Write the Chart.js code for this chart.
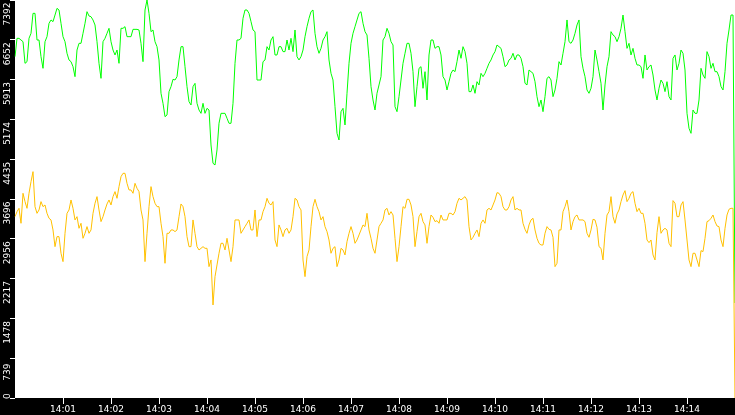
<!DOCTYPE html>
<html>
<head>
<meta charset="utf-8">
<script src="https://cdn.jsdelivr.net/npm/chart.js@4.4.1/dist/chart.umd.min.js"></script>
<style>
html,body{margin:0;padding:0;background:#000;}
#wrap{width:735px;height:415px;}
</style>
</head>
<body>
<div id="wrap"><canvas id="c" width="735" height="415"></canvas></div>
<script>
// Series read every 2.5 seconds from 14:00:00 to 14:15:00
const startTime = '14:00:00';
const stepSeconds = 2.5;

const greenSeries = [
6340,6680,6680,6649,6618,6216,6247,6680,6773,7144,7144,6649,6649,6340,6123,6618,6711,6959,7021,6990,
7113,7237,7206,6959,6711,6618,6402,6278,6247,6154,5968,6463,6587,6587,6773,6959,7175,7095,7082,7021,
6928,6618,6216,5937,6618,6680,6773,6866,6618,6463,6371,6463,6216,6866,6866,6897,6711,6711,6711,6847,
6847,6847,6835,6587,6247,7206,7392,7144,6804,6835,6618,6525,6278,5659,5473,5225,5256,5690,5783,5919,
5906,5968,6278,6525,6525,6154,5783,5504,5442,5783,
5844,5473,5349,5287,5473,5287,5380,5349,4699,4359,4328,4607,5102,5287,5287,5287,5195,5102,5102,5473,
6216,6649,6649,6680,7052,7206,7206,7144,6990,6835,6804,5906,5906,5906,6247,6278,6525,6463,6649,6711,
6371,6371,6525,6525,6433,6433,6649,6463,6680,6433,6835,6340,6278,6340,6463,6711,6897,7052,7175,7206,
6773,6525,6402,6494,6649,6711,6804,6278,6030,5906,5411,4916,4792,5318,5380,5071,5659,6216,6587,6773,
6897,7021,7144,7175,6959,6804,6742,6309,5783,5535,
5349,5659,5814,5968,6649,6711,6866,6773,6618,6556,5411,5318,5597,5906,6216,6402,6587,6587,6402,6061,
5411,5783,6123,6154,5752,6061,5535,6371,6649,6649,6494,6525,6525,6371,5968,5906,5721,5875,6030,6092,
6061,6247,6463,6309,6525,6433,6216,5690,5690,5814,5659,5875,5814,6030,5968,6030,6123,6216,6278,6371,
6433,6556,6525,6494,6340,6154,6185,6278,6309,6402,6278,6371,6371,6309,6154,5845,5814,6092,6061,6030,
5875,5597,5411,5535,5318,5597,5937,5968,5906,5597,
5721,5937,6247,6185,6402,6618,7021,6618,6587,6649,6773,6928,7021,6340,6123,5968,5721,5659,5752,5968,
6463,6278,6061,5845,5349,5814,6154,6340,6804,6742,6711,6618,6711,6866,7113,6804,6494,6587,6371,6494,
6309,6185,6185,6154,5937,6371,6092,6154,6185,5999,5721,5535,5752,5906,5844,5690,5875,5597,5535,6309,
6371,6092,6216,6463,6402,6092,5287,5009,4916,5349,5287,5287,5535,6123,5999,5937,6433,6340,6123,6216,
6061,6061,5968,5783,5721,6061,6587,6835,7113,7113,1764
];

const yellowSeries = [
3368,3461,3523,3245,3802,3647,3523,3802,4018,4204,3554,3430,3492,3647,3554,3585,3430,3338,3307,3121,
2811,2997,2997,2688,2533,3059,3430,3492,3678,3523,3307,3368,3152,3245,2966,3059,3183,3059,3121,3430,
3616,3740,3492,3276,3368,3492,3604,3678,3585,3740,3833,3709,3926,4111,4173,4173,3987,3864,3864,3802,
3987,3895,3833,3492,3307,2533,3059,3554,3926,3740,3616,3554,3554,3245,2997,2502,3059,3059,3121,3121,
3090,3121,3368,3604,3554,3368,2997,2811,2811,3307,
3059,2811,2749,2780,2811,2780,2780,2440,2564,1728,2254,2471,2688,2873,2873,2749,2966,2749,2533,2811,
3307,3307,3307,3059,3121,3183,3245,3307,3121,3121,3492,2997,3307,3307,3461,3554,3709,3616,3585,3647,
2935,2811,3214,3121,2997,3121,3152,3059,3121,3368,3709,3678,3554,3492,2564,2254,2626,2749,3183,3554,
3690,3554,3461,3307,3368,3183,3090,2935,2688,2780,2811,2440,2564,2780,2749,2657,2904,3059,3183,3059,
2873,2935,3028,3121,3214,3183,3430,3121,2966,2780,
2688,2935,3183,3245,3307,3492,3523,3399,3461,3399,2966,2533,2811,3183,3554,3523,3690,3690,3585,3368,
2811,3090,3368,3430,3276,3214,2873,3183,3399,3356,3276,3294,3245,3399,3307,3307,3307,3430,3430,3399,
3461,3616,3709,3678,3709,3740,3678,3183,2935,2985,3059,3121,2997,3245,3307,3245,3492,3523,3492,3585,
3678,3814,3802,3740,3554,3492,3492,3554,3678,3740,3492,3523,3492,3492,3245,3133,3059,3214,3307,3338,
3121,2966,2873,2842,2842,3059,3183,3133,3121,2985,
2440,2502,3121,3121,3461,3554,3678,3461,3121,3276,3368,3399,3307,3307,3307,3276,3059,2985,3121,3319,
3307,3171,2811,2780,2564,3059,3399,3461,3740,3368,3245,3418,3492,3647,3771,3851,3647,3709,3802,3833,
3616,3461,3523,3430,3430,3245,2935,2886,2935,2657,2564,3071,3368,3059,3121,3152,3121,2873,2811,3666,
3616,3368,3368,3585,3647,3307,2935,2564,2440,2688,2688,2564,2440,2737,2719,2966,3276,3294,3338,3399,
3276,3195,3183,2935,2811,3152,3399,3505,3523,3523,0
];

const yMax = 7392;
const yTickValues = [0, 739.2, 1478.4, 2217.6, 2956.8, 3696, 4435.2, 5174.4, 5913.6, 6652.8, 7392];
const yTickLabels = ['0','739','1478','2217','2956','3696','4435','5174','5913','6652','7392'];

function toSec(t){const p=t.split(':').map(Number);return p[0]*3600+p[1]*60+p[2];}
function pad(n){return String(Math.floor(n)).padStart(2,'0');}
const startSec = toSec(startTime);
const timeLabels = greenSeries.map((_, i) => {
  const s = startSec + i*stepSeconds;
  return pad(s/3600) + ':' + pad((s/60)%60) + ':' + pad(s%60);
});
const lastIndex = timeLabels.length - 1;
function isMinuteTick(i){
  const s = startSec + i*stepSeconds;
  return s % 60 === 0 && i !== 0 && i !== lastIndex;
}

const FONT = 'DejaVu Sans';

const bgPlugin = {
  id: 'bg',
  beforeDraw(chart){
    const {ctx, chartArea:a, width, height} = chart;
    ctx.save();
    ctx.fillStyle = '#000';
    ctx.fillRect(0,0,width,height);
    ctx.fillStyle = '#fff';
    ctx.fillRect(a.left, a.top, a.right-a.left, a.bottom-a.top);
    ctx.restore();
  }
};

const yLabelPlugin = {
  id: 'ylabels',
  afterDraw(chart){
    const {ctx, chartArea:a} = chart;
    const ys = chart.scales.y;
    ctx.save();
    ctx.fillStyle = '#fff';
    ctx.font = '9px "' + FONT + '"';
    ctx.textAlign = 'center';
    ctx.textBaseline = 'alphabetic';
    yTickValues.forEach((v, i) => {
      const txt = yTickLabels[i];
      const w = ctx.measureText(txt).width;
      let cy = ys.getPixelForValue(v) + 14;
      const maxCy = a.bottom + 1 - w/2;
      if (cy > maxCy) cy = maxCy;
      ctx.save();
      ctx.translate(10, cy);
      ctx.rotate(-Math.PI/2);
      ctx.fillText(txt, 0, 0);
      ctx.restore();
    });
    ctx.restore();
  }
};

new Chart(document.getElementById('c'), {
  type: 'line',
  data: {
    labels: timeLabels,
    datasets: [
      {data: yellowSeries, borderColor: '#ffc000', borderWidth: 1, pointRadius: 0, tension: 0, fill: false},
      {data: greenSeries, borderColor: '#00ff00', borderWidth: 1, pointRadius: 0, tension: 0, fill: false}
    ]
  },
  options: {
    responsive: false,
    devicePixelRatio: 1,
    animation: false,
    layout: {padding: 0},
    plugins: {legend: {display: false}, tooltip: {enabled: false}},
    scales: {
      x: {
        type: 'category',
        offset: false,
        border: {display: false},
        grid: {
          display: true,
          drawOnChartArea: false,
          drawTicks: true,
          tickLength: 6,
          offset: false,
          color: (c) => isMinuteTick(c.index) ? '#ffffff' : 'rgba(0,0,0,0)'
        },
        ticks: {
          autoSkip: false,
          maxRotation: 0,
          minRotation: 0,
          padding: 0,
          color: '#fff',
          font: {family: FONT, size: 9},
          callback: (v, i) => isMinuteTick(i) ? timeLabels[i].slice(0,5) : ''
        },
        afterFit: (s) => { s.height = 17; }
      },
      y: {
        min: 0,
        max: yMax,
        border: {display: false},
        grid: {display: true, drawOnChartArea: false, drawTicks: true, tickLength: 5, color: '#ffffff'},
        ticks: {display: false},
        afterBuildTicks: (s) => { s.ticks = yTickValues.map(v => ({value: v})); },
        afterFit: (s) => { s.width = 15; }
      }
    }
  },
  plugins: [bgPlugin, yLabelPlugin]
});
</script>
</body>
</html>
